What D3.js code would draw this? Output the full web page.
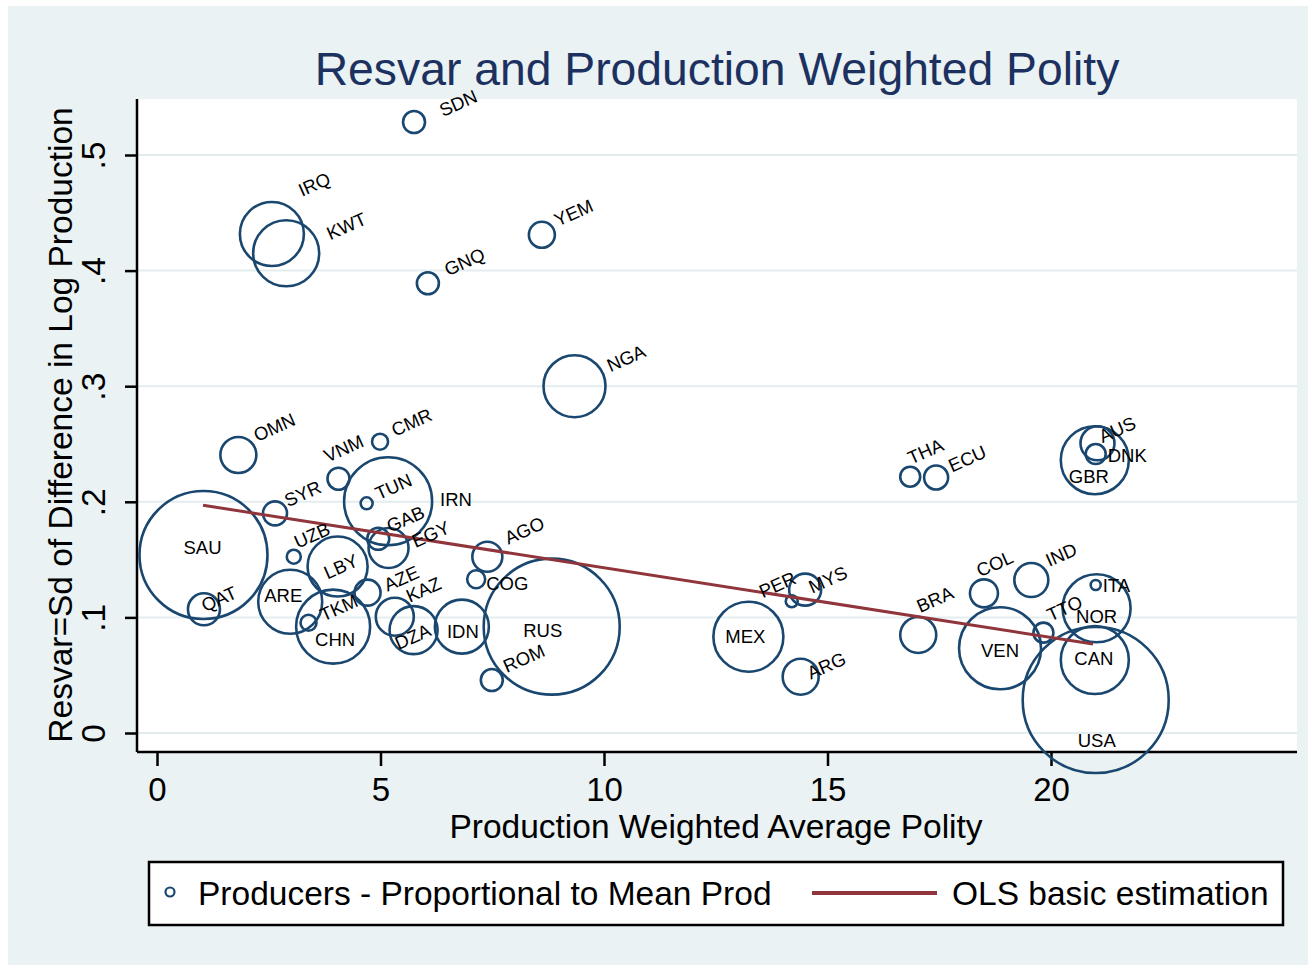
<!DOCTYPE html>
<html>
<head>
<meta charset="utf-8">
<script src="https://cdn.jsdelivr.net/npm/d3@7"></script>
<style>
  body { margin: 0; background: #fff; }
  text { font-family: "Liberation Sans", Arial, sans-serif; }
</style>
</head>
<body>
<div id="myplot"></div>
<script>
// data
var countries = ["SDN","IRQ","KWT","GNQ","YEM","NGA","OMN","CMR","VNM","THA",
                 "ECU","AUS","DNK","GBR","SYR","TUN","IRN","GAB","EGY","UZB",
                 "AGO","SAU","LBY","COG","AZE","QAT","ARE","TKM","KAZ","CHN",
                 "DZA","IDN","RUS","ROM","MEX","PER","MYS","ARG","BRA","COL",
                 "IND","TTO","ITA","NOR","VEN","CAN","USA"];
var polity = [5.75, 2.57, 2.89, 6.06, 8.61, 9.34, 1.82, 4.99, 4.06, 16.85,
              17.43, 21.04, 21.0, 20.98, 2.64, 4.69, 5.17, 4.95, 5.18, 3.06,
              7.39, 1.04, 4.04, 7.14, 4.71, 1.05, 2.98, 3.39, 5.32, 3.94,
              5.74, 6.82, 8.83, 7.49, 13.23, 14.2, 14.5, 14.4, 17.03, 18.5,
              19.56, 19.83, 21.0, 21.02, 18.86, 20.98, 21.0];
var resvar = [0.5285, 0.4317, 0.415, 0.389, 0.431, 0.300, 0.2405, 0.252, 0.220, 0.2217,
              0.221, 0.2506, 0.2413, 0.236, 0.190, 0.1987, 0.2005, 0.168, 0.160, 0.1525,
              0.1525, 0.154, 0.144, 0.133, 0.1214, 0.107, 0.1136, 0.0954, 0.1006, 0.092,
              0.089, 0.092, 0.092, 0.0458, 0.0833, 0.114, 0.124, 0.0487, 0.0848, 0.1208,
              0.1323, 0.0868, 0.128, 0.1079, 0.0733, 0.0631, 0.0285];
var meanProd = [121, 1024, 1089, 121, 169, 961, 324, 64, 121, 100,
                144, 289, 100, 1156, 144, 36, 1936, 121, 400, 49,
                225, 4096, 900, 81, 169, 256, 1024, 64, 361, 1369,
                576, 729, 4624, 121, 1225, 36, 256, 324, 324, 196,
                289, 100, 25, 1156, 1681, 1156, 5329];
var olsX = [1.03, 20.94];
var olsY = [0.197, 0.077];
var xTicks = [0, 5, 10, 15, 20];
var yTicks = [0, 0.1, 0.2, 0.3, 0.4, 0.5];
var yTickLabels = ["0", ".1", ".2", ".3", ".4", ".5"];

// label placement (offset from marker centre, rotated or not, anchor)
var labelLayout = {
  SDN:[29,-5,1], IRQ:[30,-37,1], KWT:[44,-13,1], GNQ:[20,-7,1], YEM:[16,-8,1],
  NGA:[36,-14,1], OMN:[19,-13,1], VNM:[-11,-16,1], CMR:[15,-5,1], SYR:[13,-6,1],
  TUN:[12,-3,1], GAB:[12,-6,1], EGY:[27,0,1], UZB:[4,-8,1], LBY:[-10,13,1],
  AZE:[20,-1,1], KAZ:[15,-14,1], TKM:[15,-1,1], QAT:[1,3,1], DZA:[-15,20,1],
  AGO:[21,-12,1], ROM:[15,-7,1], PER:[-29,-3,1], MYS:[7,4,1], ARG:[10,3,1],
  BRA:[2,-22,1], THA:[1,-12,1], ECU:[16,-5,1], AUS:[5,0,1], COL:[-4,-16,1],
  IND:[18,-13,1], TTO:[7,-11,1],
  SAU:[-1,-7,0], ARE:[-7,-6,0], CHN:[2,13,0], IDN:[1,5,0], RUS:[-9,4,0],
  MEX:[-3,0,0], VEN:[0,2,0], CAN:[-1,-2,0], USA:[1,40,0], NOR:[0,8,0],
  GBR:[-6,16,0],
  ITA:[7,0,2], DNK:[12,1,2], IRN:[52,-2,2], COG:[10,4,2]
};

var navy = "#1a476f", maroon = "#90353b";

var svg = d3.select("div#myplot")
  .append("svg")
  .attr("width", 1312)
  .attr("height", 966);

svg.append("rect")
  .attr("x", 8).attr("y", 6)
  .attr("width", 1300).attr("height", 959)
  .attr("fill", "#eaf2f3");

// plot region
svg.append("rect")
  .attr("x", 137).attr("y", 99)
  .attr("width", 1160).attr("height", 653)
  .attr("fill", "white");

var x = d3.scaleLinear().domain([0, 20]).range([157, 1051]);
var y = d3.scaleLinear().domain([0, 0.5]).range([733, 155]);
var r = d3.scaleSqrt().domain([0, 5329]).range([0, 73]);

// gridlines
svg.append("g")
  .selectAll("line")
  .data(yTicks)
  .enter()
  .append("line")
  .attr("x1", 138).attr("x2", 1297)
  .attr("y1", d => y(d)).attr("y2", d => y(d))
  .attr("stroke", "#e3edef")
  .attr("stroke-width", 2);

// axes
var xAxis = svg.append("g")
  .attr("transform", "translate(0,752)")
  .call(d3.axisBottom(x).tickValues(xTicks).tickSize(14).tickPadding(4).tickFormat(d3.format("d")));
xAxis.select(".domain").attr("d", "M137,0H1297").attr("stroke", "black").attr("stroke-width", 2.5);
xAxis.selectAll(".tick line").attr("stroke", "black").attr("stroke-width", 2.5);
xAxis.selectAll(".tick text")
  .attr("y", null).attr("dy", null)
  .attr("transform", "translate(0,49)")
  .attr("fill", "black")
  .attr("font-size", 33)
  .attr("font-family", "Liberation Sans, Arial, sans-serif");

var yAxis = svg.append("g")
  .attr("transform", "translate(137,0)")
  .call(d3.axisLeft(y).tickValues(yTicks).tickSize(12).tickFormat((d, i) => yTickLabels[i]));
yAxis.select(".domain").attr("d", "M0,99V752").attr("stroke", "black").attr("stroke-width", 2.5);
yAxis.selectAll(".tick line").attr("stroke", "black").attr("stroke-width", 2.5);
yAxis.selectAll(".tick text")
  .attr("x", 0).attr("y", 0).attr("dy", null)
  .attr("text-anchor", "middle")
  .attr("transform", "translate(-32,0) rotate(-90)")
  .attr("fill", "black")
  .attr("font-size", 33.5)
  .attr("font-family", "Liberation Sans, Arial, sans-serif");

// titles
svg.append("text")
  .text("Resvar and Production Weighted Polity")
  .attr("x", 717).attr("y", 85)
  .attr("text-anchor", "middle")
  .attr("font-size", 46.3)
  .attr("fill", "#1c3160");

svg.append("text")
  .text("Production Weighted Average Polity")
  .attr("x", 716).attr("y", 838)
  .attr("text-anchor", "middle")
  .attr("font-size", 33.5);

svg.append("text")
  .text("Resvar=Sd of Difference in Log Production")
  .attr("transform", "translate(72,425) rotate(-90)")
  .attr("text-anchor", "middle")
  .attr("font-size", 33.5);

// bubbles
var points = countries.map((c, i) => ({c: c, x: polity[i], y: resvar[i], p: meanProd[i]}));

svg.append("g")
  .attr("id", "bubbles")
  .selectAll("circle")
  .data(points)
  .enter()
  .append("circle")
  .attr("cx", d => x(d.x))
  .attr("cy", d => y(d.y))
  .attr("r", d => r(d.p))
  .attr("fill", "none")
  .attr("stroke", navy)
  .attr("stroke-width", 2.6);

// OLS fit
svg.append("path")
  .datum(olsX.map((v, i) => [v, olsY[i]]))
  .attr("d", d3.line().x(d => x(d[0])).y(d => y(d[1])))
  .attr("fill", "none")
  .attr("stroke", maroon)
  .attr("stroke-width", 3);

// labels
svg.append("g")
  .attr("id", "labels")
  .selectAll("text")
  .data(points)
  .enter()
  .append("text")
  .text(d => d.c)
  .attr("font-size", 18.5)
  .attr("fill", "black")
  .attr("text-anchor", d => labelLayout[d.c][2] == 0 ? "middle" : "start")
  .attr("dominant-baseline", d => labelLayout[d.c][2] == 1 ? "auto" : "central")
  .attr("transform", function (d) {
    var L = labelLayout[d.c];
    var px = x(d.x) + L[0], py = y(d.y) + L[1];
    return "translate(" + px + "," + py + ")" + (L[2] == 1 ? " rotate(-24)" : "");
  });

// legend
var legend = svg.append("g").attr("id", "legend");
legend.append("rect")
  .attr("x", 149).attr("y", 862)
  .attr("width", 1134).attr("height", 63)
  .attr("fill", "white")
  .attr("stroke", "black")
  .attr("stroke-width", 2.5);
legend.append("circle")
  .attr("cx", 170).attr("cy", 892)
  .attr("r", 4.5)
  .attr("fill", "none")
  .attr("stroke", navy)
  .attr("stroke-width", 2.2);
legend.append("text")
  .text("Producers - Proportional to Mean Prod")
  .attr("x", 198).attr("y", 905)
  .attr("font-size", 33.5);
legend.append("line")
  .attr("x1", 812).attr("x2", 937)
  .attr("y1", 893).attr("y2", 893)
  .attr("stroke", maroon)
  .attr("stroke-width", 4);
legend.append("text")
  .text("OLS basic estimation")
  .attr("x", 952).attr("y", 905)
  .attr("font-size", 33.5);
</script>
</body>
</html>
